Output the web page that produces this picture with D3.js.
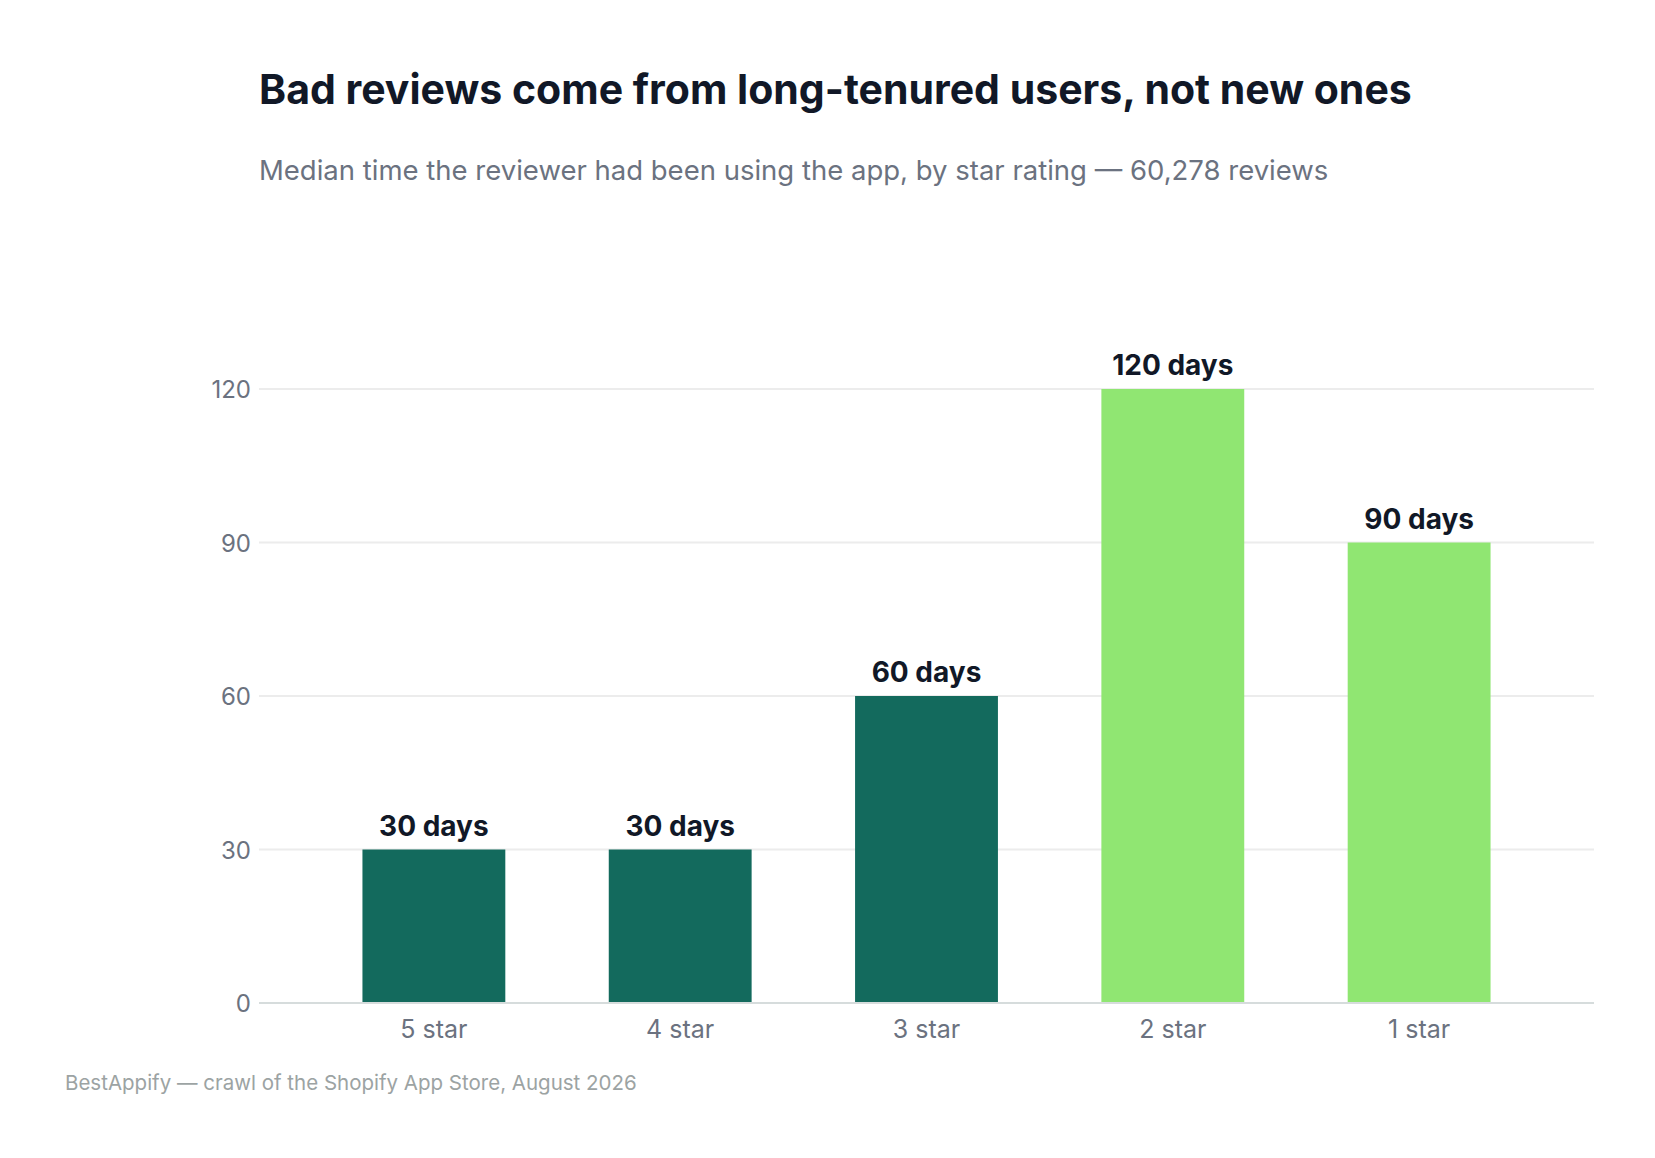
<!DOCTYPE html>
<html><head><meta charset="utf-8">
<script src="https://cdn.jsdelivr.net/npm/d3@7"></script>
<style>body{margin:0;background:#fff;font-family:Inter,"Liberation Sans",sans-serif;}</style>
</head><body><div id="viz"></div>
<script>
var data = [
  {label: "5 star", days: 30, color: "#136a5d"},
  {label: "4 star", days: 30, color: "#136a5d"},
  {label: "3 star", days: 60, color: "#136a5d"},
  {label: "2 star", days: 120, color: "#90e672"},
  {label: "1 star", days: 90, color: "#90e672"}
];
var W = 1655, H = 1158;
var plotLeft = 259, plotRight = 1594, plotTop = 389, plotBottom = 1003;
var svg = d3.select("#viz").append("svg").attr("width", W).attr("height", H);

var x = d3.scaleBand().domain(data.map(function(d){ return d.label })).range([plotLeft, plotRight]).padding(0.42);
var y = d3.scaleLinear().domain([0, 120]).range([plotBottom, plotTop]);

svg.append("text").attr("x", 259).attr("y", 104).attr("font-size", 41).attr("font-weight", 700)
  .attr("fill", "#111827").text("Bad reviews come from long-tenured users, not new ones");
svg.append("text").attr("x", 259).attr("y", 180).attr("font-size", 27.5)
  .attr("fill", "#6b7280").text("Median time the reviewer had been using the app, by star rating — 60,278 reviews");
svg.append("text").attr("x", 65).attr("y", 1090).attr("font-size", 20.5)
  .attr("fill", "#9ca3a3").text("BestAppify — crawl of the Shopify App Store, August 2026");

var ticks = [0, 30, 60, 90, 120];
svg.selectAll("line.grid").data(ticks).enter().append("line")
  .attr("x1", plotLeft).attr("x2", plotRight)
  .attr("y1", function(d){ return y(d) }).attr("y2", function(d){ return y(d) })
  .attr("stroke", function(d){ return d == 0 ? "#d6dcdc" : "#ececec" })
  .attr("stroke-width", 2);
svg.selectAll("text.tick").data(ticks).enter().append("text")
  .attr("x", plotLeft - 8).attr("y", function(d){ return y(d) + 9 })
  .attr("text-anchor", "end").attr("font-size", 24).attr("fill", "#6b7280")
  .text(function(d){ return d });

svg.selectAll("rect").data(data).enter().append("rect")
  .attr("x", function(d){ return x(d.label) }).attr("width", x.bandwidth())
  .attr("y", function(d){ return y(d.days) }).attr("height", function(d){ return plotBottom - y(d.days) - 1 })
  .attr("fill", function(d){ return d.color });

svg.selectAll("text.val").data(data).enter().append("text")
  .attr("x", function(d){ return x(d.label) + x.bandwidth()/2 }).attr("y", function(d){ return y(d.days) - 14 })
  .attr("text-anchor", "middle").attr("font-size", 28).attr("font-weight", 700).attr("fill", "#111827")
  .text(function(d){ return d.days + " days" });

svg.selectAll("text.cat").data(data).enter().append("text")
  .attr("x", function(d){ return x(d.label) + x.bandwidth()/2 }).attr("y", 1038)
  .attr("text-anchor", "middle").attr("font-size", 25).attr("fill", "#6b7280")
  .text(function(d){ return d.label });
</script></body></html>
